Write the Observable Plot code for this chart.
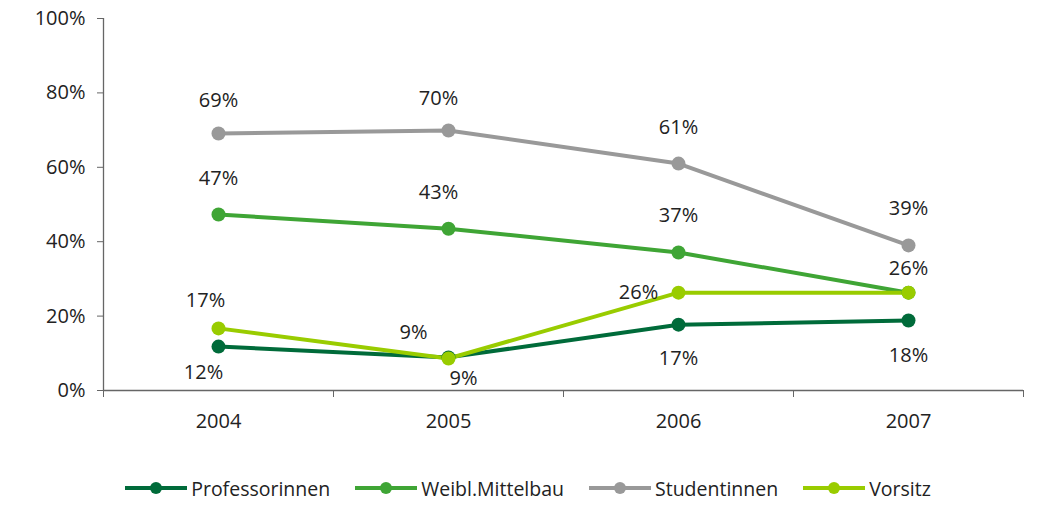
<!DOCTYPE html>
<html><head><meta charset="utf-8">
<script src="https://cdn.jsdelivr.net/npm/d3@7"></script>
<script src="https://cdn.jsdelivr.net/npm/@observablehq/plot@0.6"></script>
<style>
body{margin:0;background:#fff;font-family:"Open Sans",sans-serif;}
#chart svg text{font-family:"Open Sans",sans-serif;font-size:20px;}
#legend{display:flex;justify-content:center;align-items:center;gap:25px;height:36px;font-size:19.5px;color:#222;padding-left:16px;}
.item{display:flex;align-items:center;gap:4px;}
</style></head>
<body><div id="chart"></div><div id="legend"></div>
<script>
const years = [2004, 2005, 2006, 2007];
const seriesNames = ["Professorinnen", "Weibl.Mittelbau", "Studentinnen", "Vorsitz"];
const professorinnen = [11.8, 8.9, 17.7, 18.8];
const mittelbau = [47.3, 43.5, 37.1, 26.3];
const studentinnen = [69.1, 69.9, 61.0, 39.0];
const vorsitz = [16.7, 8.6, 26.3, 26.3];
const labelsProf = ["12%", "9%", "17%", "18%"];
const labelsMittel = ["47%", "43%", "37%", "26%"];
const labelsStud = ["69%", "70%", "61%", "39%"];
const labelsVors = ["17%", "9%", "26%", "26%"];
const yTicks = [0, 20, 40, 60, 80, 100];

const colors = ["#006b3a", "#3fa535", "#999999", "#99cc00"];
const values = [professorinnen, mittelbau, studentinnen, vorsitz];
const labels = [labelsProf, labelsMittel, labelsStud, labelsVors];
// label offsets (style) per series/year
const offsets = [
  [[-15, 26], [15, 21], [0, 34], [0, 35]],
  [[0, -36], [-10, -36], [0, -37], [0, -24]],
  [[0, -33], [-10, -32], [0, -36], [0, -37]],
  [[-13, -28], [-35, -26], [-40, 0], null]
];

const data = seriesNames.flatMap((s, si) => years.map((yr, i) => ({series: s, year: yr, value: values[si][i], label: labels[si][i], si, i})));

const textMarks = data.filter(d => offsets[d.si][d.i]).map(d => Plot.text([d], {
  x: "year", y: "value", text: "label",
  dx: offsets[d.si][d.i][0], dy: offsets[d.si][d.i][1],
  fontSize: 20, fill: "#222"
}));

const chart = Plot.plot({
  width: 1040, height: 470,
  marginLeft: 103, marginRight: 17, marginTop: 18, marginBottom: 80,
  style: {fontFamily: "Open Sans, sans-serif", fontSize: "20px", color: "#222", background: "#fff", overflow: "visible"},
  x: {type: "linear", domain: [2003.5, 2007.5], label: null},
  y: {domain: [0, 100], label: null},
  color: {domain: seriesNames, range: colors},
  marks: [
    Plot.axisY({ticks: yTicks, tickFormat: d => d + "%", tickSize: 6, tickPadding: 12, stroke: "#666", fill: "#222", fontSize: 20, label: null}),
    Plot.ruleX([2003.5], {stroke: "#666", strokeWidth: 1.3}),
    Plot.axisX({ticks: [2003.5, 2004.5, 2005.5, 2006.5, 2007.5], tickFormat: () => "", tickSize: 7, stroke: "#666", label: null}),
    Plot.axisX({ticks: years, tickFormat: d => String(d), tickSize: 0, tickPadding: 23, fill: "#222", fontSize: 20, label: null}),
    Plot.ruleY([0], {stroke: "#666", strokeWidth: 1.3}),
    Plot.line(data, {x: "year", y: "value", z: "series", stroke: "series", strokeWidth: 4}),
    Plot.dot(data, {x: "year", y: "value", fill: "series", r: 7}),
    ...textMarks
  ]
});
document.getElementById("chart").appendChild(chart);

const legend = document.getElementById("legend");
seriesNames.forEach((s, i) => {
  const item = document.createElement("div");
  item.className = "item";
  item.innerHTML = `<svg width="62" height="16"><line x1="0" y1="8" x2="62" y2="8" stroke="${colors[i]}" stroke-width="4"/><circle cx="31" cy="8" r="6" fill="${colors[i]}"/></svg><span>${s}</span>`;
  legend.appendChild(item);
});
</script></body></html>
